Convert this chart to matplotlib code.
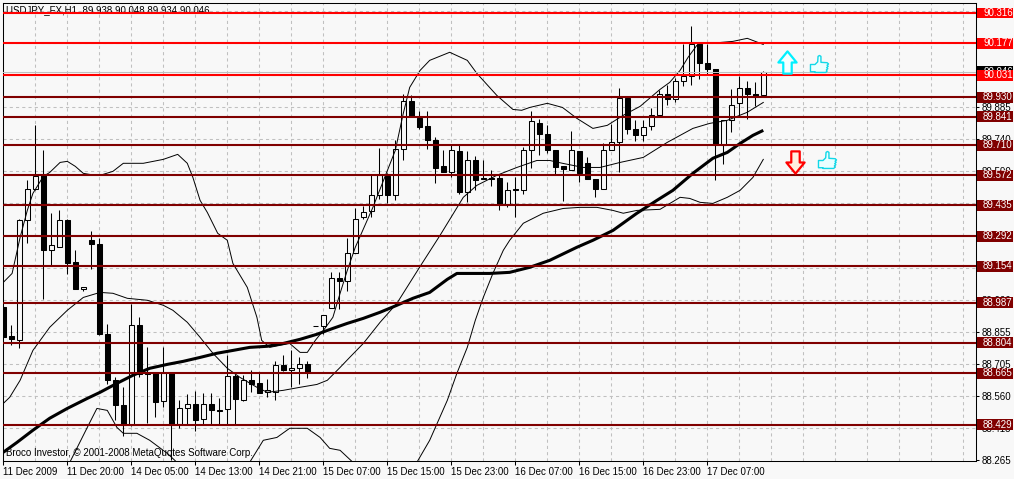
import numpy as np
import matplotlib
matplotlib.use("Agg")
import matplotlib.pyplot as plt
from matplotlib import font_manager
from matplotlib.path import Path
from matplotlib.patches import Rectangle
from matplotlib.transforms import blended_transform_factory

# ---- data (USDJPY H1) ----
OPEN = [88.968, 88.833, 88.818, 89.369, 89.507, 89.573, 89.231, 89.243, 89.365, 89.173,
        89.052, 89.274, 89.258, 88.843, 88.635, 88.520, 88.429, 88.887, 88.664, 88.665,
        88.537, 88.665, 88.433, 88.507, 88.525, 88.456, 88.525, 88.496, 88.502, 88.650,
        88.540, 88.635, 88.619, 88.577, 88.578, 88.700, 88.678, 88.690, 88.708, 88.880,
        88.881, 88.965, 89.103, 89.086, 89.215, 89.380, 89.407, 89.483, 89.568, 89.480,
        89.694, 89.911, 89.834, 89.796, 89.735, 89.613, 89.587, 89.682, 89.495, 89.640,
        89.558, 89.559, 89.559, 89.439, 89.508, 89.506, 89.686, 89.813, 89.763, 89.686,
        89.614, 89.598, 89.682, 89.630, 89.553, 89.511, 89.686, 89.724, 89.928, 89.786,
        89.755, 89.796, 89.847, 89.943, 89.923, 90.003, 90.026, 90.172, 90.088, 90.061,
        89.712, 89.824, 89.905, 89.972, 89.946, 89.938]
HIGH = [88.976, 88.884, 89.373, 89.552, 89.802, 89.686, 89.399, 89.411, 89.373, 89.231,
        89.060, 89.316, 89.284, 88.892, 88.647, 88.601, 88.983, 88.922, 88.784, 88.668,
        88.784, 88.665, 88.543, 88.568, 88.583, 88.573, 88.573, 88.552, 88.746, 88.662,
        88.655, 88.678, 88.664, 88.636, 88.720, 88.746, 88.769, 88.739, 88.720, 88.882,
        88.933, 89.128, 89.128, 89.286, 89.424, 89.429, 89.579, 89.699, 89.581, 89.732,
        89.946, 89.938, 89.865, 89.865, 89.747, 89.689, 89.709, 89.717, 89.683, 89.659,
        89.644, 89.595, 89.572, 89.541, 89.564, 89.701, 89.866, 89.832, 89.801, 89.686,
        89.614, 89.773, 89.682, 89.656, 89.553, 89.720, 89.809, 89.974, 89.928, 89.827,
        89.824, 89.882, 89.961, 89.984, 90.020, 90.172, 90.255, 90.172, 90.172, 90.061,
        89.827, 89.966, 90.026, 90.003, 90.000, 90.048]
LOW = [88.824, 88.792, 88.782, 89.261, 89.505, 89.006, 89.159, 89.241, 89.121, 89.049,
       89.041, 89.142, 88.841, 88.613, 88.448, 88.375, 88.421, 88.647, 88.436, 88.463,
       88.509, 88.265, 88.415, 88.433, 88.399, 88.430, 88.430, 88.430, 88.433, 88.430,
       88.535, 88.578, 88.572, 88.555, 88.543, 88.674, 88.601, 88.617, 88.644, 88.880,
       88.846, 88.965, 88.960, 89.040, 89.214, 89.373, 89.380, 89.465, 89.445, 89.460,
       89.644, 89.841, 89.786, 89.694, 89.536, 89.586, 89.564, 89.488, 89.449, 89.503,
       89.554, 89.521, 89.411, 89.426, 89.380, 89.488, 89.607, 89.663, 89.673, 89.576,
       89.454, 89.598, 89.541, 89.557, 89.472, 89.511, 89.686, 89.587, 89.763, 89.729,
       89.729, 89.778, 89.842, 89.893, 89.908, 89.980, 89.984, 90.015, 90.030, 89.552,
       89.625, 89.770, 89.847, 89.832, 89.888, 89.934]
CLOSE = [88.830, 88.821, 89.369, 89.507, 89.568, 89.231, 89.251, 89.365, 89.170, 89.052,
         89.060, 89.258, 88.843, 88.632, 88.517, 88.429, 88.887, 88.662, 88.659, 88.532,
         88.665, 88.429, 88.505, 88.525, 88.448, 88.525, 88.494, 88.492, 88.650, 88.548,
         88.635, 88.617, 88.573, 88.589, 88.700, 88.678, 88.690, 88.708, 88.670, 88.881,
         88.933, 89.103, 89.086, 89.215, 89.373, 89.403, 89.483, 89.572, 89.480, 89.694,
         89.911, 89.842, 89.793, 89.732, 89.605, 89.587, 89.686, 89.495, 89.640, 89.549,
         89.555, 89.557, 89.439, 89.503, 89.506, 89.686, 89.819, 89.763, 89.689, 89.610,
         89.602, 89.686, 89.582, 89.557, 89.511, 89.686, 89.724, 89.928, 89.786, 89.755,
         89.793, 89.847, 89.943, 89.923, 90.003, 90.026, 90.172, 90.087, 90.058, 89.712,
         89.827, 89.896, 89.972, 89.946, 89.934, 90.046]

# Bollinger bands and moving average: (bar index, price)
UPPER_X = [0.0, 1.1, 2.1, 3.0, 3.7, 5.0, 5.8, 7.1, 8.0, 9.0, 10.0, 10.8, 12.1, 13.7, 15.0,
           17.5, 20.0, 21.8, 23.0, 23.7, 24.6, 25.5, 26.8, 28.0, 28.7, 30.5, 31.7, 32.3,
           33.3, 35.8, 37.1, 38.0, 39.0, 40.2, 41.2, 42.1, 43.0, 44.0, 46.2, 49.0, 50.0,
           50.8, 52.1, 53.3, 55.8, 58.0, 59.2, 61.7, 63.7, 64.8, 65.8, 68.0, 69.9, 71.7,
           73.7, 75.5, 77.5, 79.6, 82.1, 83.3, 84.6, 85.6, 86.7, 88.0, 89.6, 91.2, 93.0, 95.0]
UPPER_Y = [89.081, 89.122, 89.287, 89.411, 89.489, 89.567, 89.585, 89.631, 89.636, 89.613,
           89.581, 89.576, 89.572, 89.590, 89.627, 89.627, 89.645, 89.668, 89.627, 89.562,
           89.457, 89.402, 89.306, 89.274, 89.168, 89.058, 88.921, 88.815, 88.783, 88.801,
           88.760, 88.760, 88.815, 88.870, 88.921, 89.031, 89.136, 89.242, 89.425, 89.686,
           89.856, 89.975, 90.053, 90.099, 90.136, 90.099, 90.039, 89.938, 89.874, 89.870,
           89.883, 89.902, 89.883, 89.833, 89.787, 89.801, 89.847, 89.888, 89.966, 89.998,
           90.053, 90.113, 90.168, 90.181, 90.181, 90.186, 90.200, 90.172]
MID_X = [0.0, 0.8, 2.1, 3.7, 5.8, 8.0, 10.0, 12.1, 13.7, 15.5, 18.0, 20.0, 21.2, 23.0, 24.6,
         26.2, 28.0, 29.6, 31.7, 33.0, 35.0, 37.1, 39.2, 40.5, 42.1, 43.3, 45.0, 47.1, 49.2,
         52.1, 54.6, 57.5, 59.2, 61.7, 64.2, 66.7, 68.3, 69.9, 72.5, 74.6, 77.1, 80.0, 83.0,
         86.2, 88.3, 90.5, 93.0, 95.0]
MID_Y = [88.526, 88.554, 88.632, 88.769, 88.875, 88.953, 89.012, 89.035, 89.031, 89.008,
         88.999, 88.976, 88.953, 88.898, 88.829, 88.756, 88.687, 88.645, 88.600, 88.577,
         88.586, 88.600, 88.613, 88.632, 88.691, 88.737, 88.801, 88.898, 88.985, 89.154,
         89.297, 89.471, 89.526, 89.572, 89.608, 89.640, 89.640, 89.627, 89.608, 89.608,
         89.631, 89.654, 89.723, 89.787, 89.810, 89.824, 89.861, 89.906]
LOWER_X = [8.0, 10.5, 11.7, 13.0, 14.2, 15.0, 16.7, 18.3, 20.5, 21.7, np.nan,
           30.8, 32.5, 34.2, 35.8, 38.0, 39.6, 40.8, 42.1, 43.7, np.nan,
           51.7, 53.3, 55.5, 56.7, 58.0, 59.0, 60.0, 61.2, 62.5, 63.3, 65.0, 67.5, 70.0,
           72.1, 74.2, 76.2, 77.5, 79.2, 82.1, 84.6, 85.8, 87.1, 88.7, 90.5, 92.1, 93.7, 95.0]
LOWER_Y = [88.233, 88.416, 88.503, 88.494, 88.416, 88.389, 88.389, 88.357, 88.297, 88.256, np.nan,
           88.256, 88.357, 88.370, 88.412, 88.412, 88.370, 88.320, 88.311, 88.256, np.nan,
           88.256, 88.357, 88.540, 88.664, 88.783, 88.907, 89.012, 89.122, 89.228, 89.274,
           89.352, 89.398, 89.420, 89.425, 89.425, 89.411, 89.398, 89.411, 89.416, 89.471,
           89.466, 89.448, 89.443, 89.471, 89.503, 89.562, 89.645]
MA_X = [0.0, 1.7, 3.7, 5.8, 8.0, 10.5, 12.1, 14.2, 16.2, 18.3, 20.5, 22.5, 24.6, 26.7, 28.7,
        30.8, 33.0, 35.0, 37.1, 39.2, 41.2, 43.0, 45.0, 47.1, 49.2, 51.2, 53.3, 55.5, 56.7,
        58.0, 60.8, 63.3, 65.8, 68.3, 71.7, 73.7, 76.2, 79.2, 81.7, 83.7, 86.2, 88.7, 90.5,
        92.1, 93.7, 95.0]
MA_Y = [88.302, 88.347, 88.403, 88.458, 88.503, 88.549, 88.577, 88.618, 88.655, 88.687,
        88.705, 88.719, 88.737, 88.756, 88.769, 88.783, 88.788, 88.801, 88.820, 88.843,
        88.870, 88.893, 88.916, 88.944, 88.976, 89.008, 89.035, 89.095, 89.122, 89.122,
        89.122, 89.127, 89.150, 89.182, 89.242, 89.274, 89.319, 89.398, 89.457, 89.503,
        89.581, 89.650, 89.677, 89.718, 89.755, 89.778]

LEVELS = [90.316, 90.177, 90.031, 89.930, 89.841, 89.710, 89.572, 89.435, 89.292,
          89.154, 88.987, 88.804, 88.665, 88.429]
LEVEL_COLORS = ["#FF0000"] * 3 + ["#800000"] * 11
BID = 90.046

TIME_BARS = [0, 8, 16, 24, 32, 40, 48, 56, 64, 72, 80, 88]
TIME_LABELS = ["11 Dec 2009", "11 Dec 20:00", "14 Dec 05:00", "14 Dec 13:00",
               "14 Dec 21:00", "15 Dec 07:00", "15 Dec 15:00", "15 Dec 23:00",
               "16 Dec 07:00", "16 Dec 15:00", "16 Dec 23:00", "17 Dec 07:00"]
GRID_PRICES = [88.265, 88.413, 88.560, 88.707, 88.854, 89.001, 89.149, 89.296,
               89.443, 89.591, 89.738, 89.885, 90.032, 90.180, 90.327]
# labels fully covered by the level boxes are left blank
GRID_LABELS = ["88.265", "88.413", "88.560", "88.705", "88.855", "89.000", "",
               "", "", "89.590", "89.740", "89.885", "90.035", "", ""]
GRID_BARS = list(range(4, 121, 4))

# signal objects: arrows and thumbs (bar index, price)
UP_ARROW = (97.96, 90.090)
DOWN_ARROW = (98.96, 89.634)
THUMBS_X = [101.96, 102.96]
THUMBS_Y = [90.081, 89.640]

TITLE = "USDJPY_FX,H1  89.938 90.048 89.934 90.046"
COPYRIGHT = "Broco Investor, \u00a9 2001-2008 MetaQuotes Software Corp."


def pick_font(names):
    for n in names:
        try:
            font_manager.findfont(n, fallback_to_default=False)
            return n
        except ValueError:
            pass
    return "DejaVu Sans"


FONT = pick_font(["Liberation Sans Narrow", "DejaVu Sans Condensed", "Liberation Sans"])
FS = {"Liberation Sans Narrow": 8, "DejaVu Sans Condensed": 7,
      "Liberation Sans": 7.0}.get(FONT, 6.3)
plt.rcParams["font.family"] = [FONT, "DejaVu Sans"]

BG = "#F8F8F8"
W, H = 1014, 479
fig = plt.figure(figsize=(W / 100, H / 100), dpi=100, facecolor=BG)
ax = fig.add_axes([3 / W, (H - 461) / H, 973 / W, 458 / H], facecolor=BG)
ax.set_xlim(-0.0375, 121.59)
ax.set_ylim(88.262, 90.362)

# grid
ax.vlines(GRID_BARS, 88.262, 90.362, colors="#C0C0C0", lw=0.75,
          linestyles=(0, (3, 3)), zorder=0.5)
ax.hlines(GRID_PRICES[1:], -0.0375, 121.59, colors="#C0C0C0", lw=0.75,
          linestyles=(0, (3, 3)), zorder=0.5)

# candles
x = np.arange(len(OPEN))
o, h, l, c = map(np.array, (OPEN, HIGH, LOW, CLOSE))
up = c >= o
ax.vlines(x, l, h, color="black", lw=0.75, zorder=2)
ax.bar(x[up], (c - o)[up], bottom=o[up], width=0.62, facecolor=BG,
       edgecolor="black", lw=0.75, zorder=3)
ax.bar(x[~up], (c - o)[~up], bottom=o[~up], width=0.62, facecolor="black",
       edgecolor="black", lw=0.75, zorder=3)

# indicators
ax.plot(UPPER_X, UPPER_Y, color="black", lw=0.7, zorder=4)
ax.plot(MID_X, MID_Y, color="black", lw=0.7, zorder=4)
ax.plot(LOWER_X, LOWER_Y, color="black", lw=0.7, zorder=4)
ax.plot(MA_X, MA_Y, color="black", lw=2.2, zorder=4, solid_capstyle="butt")

ax.axhline(BID, color="#C0C0C0", lw=0.75, zorder=4.5)
ax.text(3.5 / 973, 1 - 7 / 458, TITLE, transform=ax.transAxes, fontsize=FS,
        va="center", ha="left", color="black", zorder=4.6)
ax.text(3.5 / 973, 1 - 450 / 458, COPYRIGHT, transform=ax.transAxes, fontsize=FS,
        va="center", ha="left", color="black", zorder=4.6)

for lvl, col in zip(LEVELS, LEVEL_COLORS):
    ax.axhline(lvl, color=col, lw=1.5, zorder=5)

# arrows and thumbs
up_path = Path([(0, 0.5), (0.41, 0.0), (0.19, 0.0), (0.19, -0.5), (-0.19, -0.5),
                (-0.19, 0.0), (-0.41, 0.0), (0, 0.5)], closed=True)
dn_path = Path([(0, -0.5), (0.41, 0.0), (0.19, 0.0), (0.19, 0.5), (-0.19, 0.5),
                (-0.19, 0.0), (-0.41, 0.0), (0, -0.5)], closed=True)
ax.plot(*UP_ARROW, marker=up_path, ms=16, mfc="#F4FFFF", mec="#00F0FF", mew=1.6,
        ls="none", zorder=6)
ax.plot(*DOWN_ARROW, marker=dn_path, ms=16, mfc="#FFF0E0", mec="#FF0000", mew=1.6,
        ls="none", zorder=6)
thumb = np.array([(0.00, 0.10), (0.00, 0.50), (0.25, 0.50), (0.40, 0.65), (0.42, 0.95),
                  (0.50, 1.00), (0.58, 0.95), (0.58, 0.62), (0.92, 0.60), (1.00, 0.53),
                  (0.92, 0.46), (0.98, 0.40), (0.90, 0.33), (0.96, 0.27), (0.88, 0.20),
                  (0.92, 0.13), (0.84, 0.06), (0.25, 0.06), (0.25, 0.10), (0.00, 0.10)]) - 0.5
ax.plot(THUMBS_X, THUMBS_Y, marker=Path(thumb, closed=True), ms=13, mfc="#EAFFFF",
        mec="#10D8E8", mew=1.0, ls="none", zorder=6)

# axes, ticks
for s in ax.spines.values():
    s.set_color("black")
    s.set_linewidth(0.75)
ax.set_xticks(TIME_BARS)
ax.set_xticklabels(TIME_LABELS)
for lbl in ax.get_xticklabels():
    lbl.set_horizontalalignment("left")
ax.yaxis.tick_right()
ax.set_yticks(GRID_PRICES)
ax.set_yticklabels(GRID_LABELS)
ax.tick_params(axis="x", direction="out", length=3, width=0.75, pad=1,
               labelsize=FS, colors="black")
ax.tick_params(axis="y", direction="out", length=2.5, width=0.75, pad=1.5,
               labelsize=FS, colors="black")

# price boxes on the right scale
trans = blended_transform_factory(ax.transAxes, ax.transData)
box_h = 0.05
ax.add_patch(Rectangle((1.0015, BID - box_h / 2), 0.0365, box_h, transform=trans,
                       clip_on=False, fc="black", ec="none", zorder=6))
ax.text(1.0072, BID, f"{BID:.3f}", transform=trans, color="white", fontsize=FS,
        va="center", ha="left", clip_on=False, zorder=6.5)
for lvl, col in zip(LEVELS, LEVEL_COLORS):
    ax.add_patch(Rectangle((1.0015, lvl - box_h / 2), 0.0365, box_h, transform=trans,
                           clip_on=False, fc=col, ec="none", zorder=7))
    ax.text(1.0072, lvl, f"{lvl:.3f}", transform=trans, color="white", fontsize=FS,
            va="center", ha="left", clip_on=False, zorder=8)

fig.savefig("out.png", dpi=100, facecolor=BG)
